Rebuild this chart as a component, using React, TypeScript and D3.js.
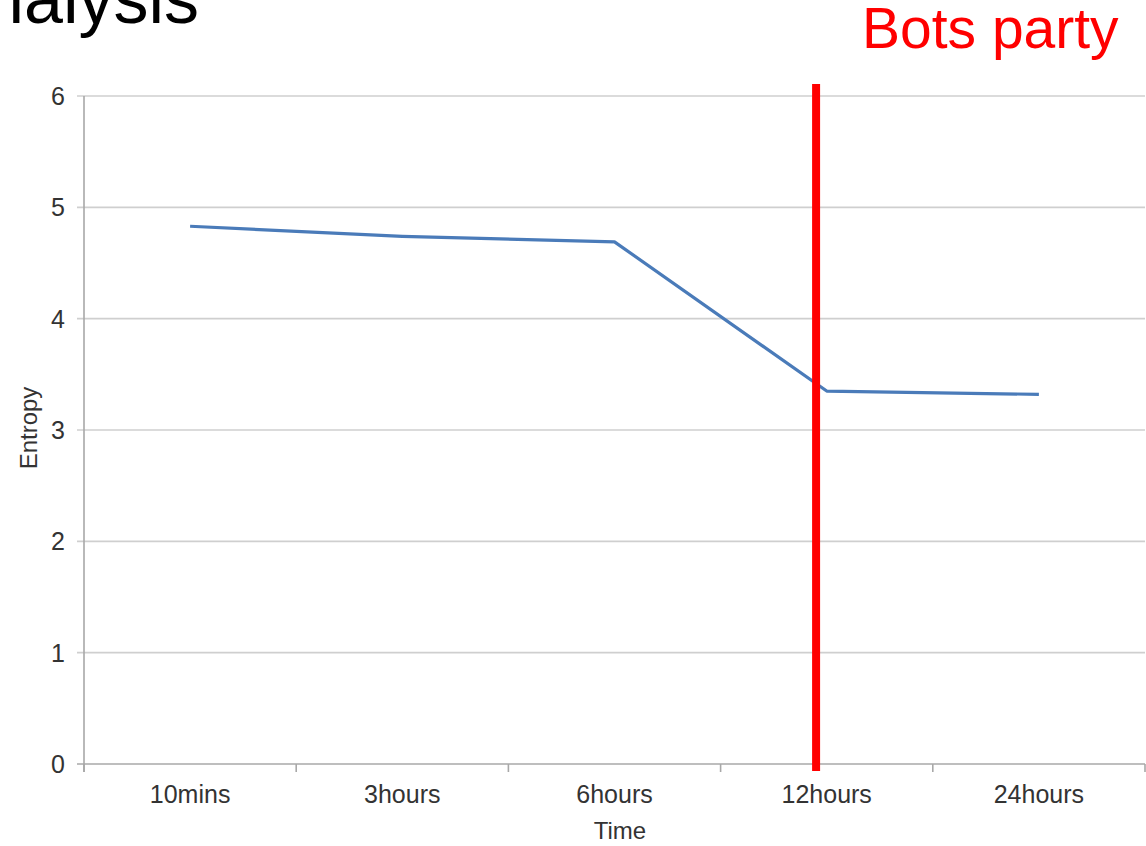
import React from "react";
import * as d3 from "d3";

// Entropy of the observed traffic at successive time windows
const timeWindows = ["10mins", "3hours", "6hours", "12hours", "24hours"];
const entropyValues = [4.83, 4.74, 4.69, 3.35, 3.32];
const yTicks = [0, 1, 2, 3, 4, 5, 6];
// Position of the "Bots party" marker, in category-band units from the axis start
const botsPartyAt = 3.45;

const W = 1146;
const H = 846;
const FONT = "'Liberation Sans', Arial, Helvetica, sans-serif";

export default function App() {
  const plotLeft = 84;
  const plotRight = 1145;
  const plotTop = 96;
  const plotBottom = 764;

  const x = d3.scaleBand<string>().domain(timeWindows).range([plotLeft, plotRight]).padding(0);
  const y = d3.scaleLinear().domain([0, 6]).range([plotBottom, plotTop]);
  const bandIndex = d3.scaleLinear().domain([0, timeWindows.length]).range([plotLeft, plotRight]);

  const points: [number, number][] = timeWindows.map((t, i) => [
    (x(t) as number) + x.bandwidth() / 2,
    y(entropyValues[i]),
  ]);
  const linePath = d3.line()(points) || "";

  const boundaries = d3.range(timeWindows.length + 1).map((i) => bandIndex(i));
  const markerX = bandIndex(botsPartyAt);

  return (
    <svg
      width={W}
      height={H}
      style={{ position: "absolute", left: 0, top: 0, background: "#fff" }}
      fontFamily={FONT}
    >
      <rect width={W} height={H} fill="#fff" />

      {/* slide title, running off the left edge */}
      <text x={199} y={23} fontSize={70} textAnchor="end" fill="#000">
        Analysis
      </text>

      {/* horizontal gridlines */}
      {yTicks.map((v) => (
        <line
          key={"g" + v}
          x1={plotLeft - 7}
          x2={plotRight}
          y1={y(v)}
          y2={y(v)}
          stroke={v === 0 ? "#a8a8a8" : "#cfcfcf"}
          strokeWidth={1.6}
        />
      ))}

      {/* y axis line */}
      <line x1={plotLeft} x2={plotLeft} y1={y(6)} y2={y(0) + 8} stroke="#a8a8a8" strokeWidth={1.6} />

      {/* x axis ticks at category boundaries */}
      {boundaries.map((bx, i) => (
        <line key={"t" + i} x1={bx} x2={bx} y1={y(0)} y2={y(0) + 8} stroke="#a8a8a8" strokeWidth={1.6} />
      ))}

      {/* y tick labels */}
      {yTicks.map((v) => (
        <text key={"yl" + v} x={58} y={y(v) + 9} fontSize={25} textAnchor="middle" fill="#333">
          {v}
        </text>
      ))}

      {/* x tick labels */}
      {timeWindows.map((t) => (
        <text
          key={"xl" + t}
          x={(x(t) as number) + x.bandwidth() / 2}
          y={803}
          fontSize={25}
          textAnchor="middle"
          fill="#333"
        >
          {t}
        </text>
      ))}

      {/* axis titles */}
      <text x={620} y={839} fontSize={24} textAnchor="middle" fill="#333">
        Time
      </text>
      <text
        transform={`translate(37, ${(y(0) + y(6)) / 2 - 2}) rotate(-90)`}
        fontSize={24}
        textAnchor="middle"
        fill="#333"
      >
        Entropy
      </text>

      {/* entropy series */}
      <path d={linePath} fill="none" stroke="#4a7bb9" strokeWidth={3.2} strokeLinejoin="round" />

      {/* bots party marker */}
      <line x1={markerX} x2={markerX} y1={84} y2={771} stroke="#ff0000" strokeWidth={8} />
      <text x={862} y={48} fontSize={57} fill="#ff0000">
        Bots party
      </text>
    </svg>
  );
}
